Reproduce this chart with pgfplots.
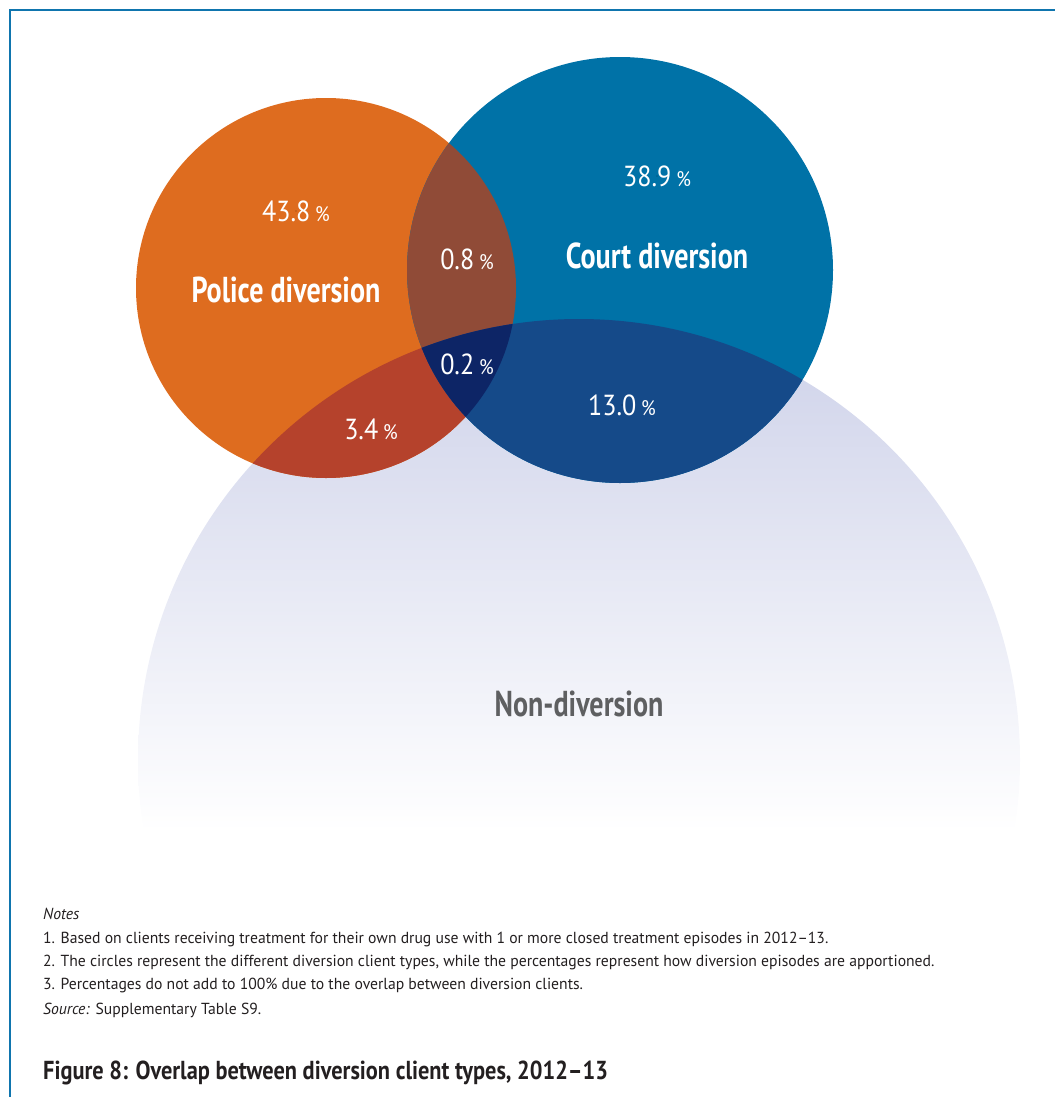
\documentclass[border=0pt]{standalone}
\usepackage{fontspec}
\setmainfont{PT Sans}[FakeStretch=0.98, BoldFeatures={FakeStretch=0.78}]
\newfontfamily\titlefamily{PT Sans}[BoldFeatures={FakeStretch=0.86}]
\newfontfamily\pctfamily{PT Sans}[FakeStretch=0.9]
\usepackage{pgfplots}
\pgfplotsset{compat=1.18}
\definecolor{frame}{HTML}{0F75AE}
\definecolor{police}{HTML}{DE6C1F}
\definecolor{court}{HTML}{0072A7}
\definecolor{pc}{HTML}{904B37}
\definecolor{pn}{HTML}{B5422C}
\definecolor{cn}{HTML}{154A89}
\definecolor{pcn}{HTML}{0D2566}
\definecolor{lav}{HTML}{CDD1E9}
\definecolor{labgrey}{HTML}{5E5F61}
\definecolor{txt}{HTML}{231F20}
\begin{document}
\begin{tikzpicture}
\begin{axis}[width=1055pt,height=1097pt,scale only axis,
  xmin=0,xmax=1055,ymin=0,ymax=1097,y dir=reverse,
  hide axis, clip=false]
% frame
\draw[frame, line width=2.5pt] (axis cs:10,1097) -- (axis cs:10,10) -- (axis cs:1055,10);
% non-diversion (faded)
\begin{scope}
\clip (axis cs:579,760) circle[radius=441pt];
\shade[top color=lav, middle color=lav!80!white, bottom color=white] (axis cs:100,318) rectangle (axis cs:1055,832);
\end{scope}
% police and court
\fill[police] (axis cs:326,288) circle[radius=190pt];
\fill[court] (axis cs:620,270) circle[radius=213pt];
% overlaps
\begin{scope}
\clip (axis cs:326,288) circle[radius=190pt];
\fill[pc] (axis cs:620,270) circle[radius=213pt];
\fill[pn] (axis cs:579,760) circle[radius=441pt];
\end{scope}
\begin{scope}
\clip (axis cs:620,270) circle[radius=213pt];
\fill[cn] (axis cs:579,760) circle[radius=441pt];
\end{scope}
\begin{scope}
\clip (axis cs:326,288) circle[radius=190pt];
\clip (axis cs:620,270) circle[radius=213pt];
\fill[pcn] (axis cs:579,760) circle[radius=441pt];
\end{scope}
% percentages
\addplot[only marks, mark=*, mark size=0.01pt, mark options={draw=none,fill=none},
  point meta=explicit symbolic,
  nodes near coords={\pgfplotspointmeta\,{\fontsize{21}{21}\selectfont\%}},
  every node near coord/.append style={anchor=center, text=white, font=\pctfamily\fontsize{29}{29}\selectfont, inner sep=0pt}]
coordinates {
(296,211) [43.8]
(467,259) [0.8]
(657,176) [38.9]
(467,364) [0.2]
(371,429) [3.4]
(622,405) [13.0]
};
% region names
\node[text=white, font=\bfseries\fontsize{36}{36}\selectfont, inner sep=0pt] at (axis cs:286,290) {Police diversion};
\node[text=white, font=\bfseries\fontsize{36}{36}\selectfont, inner sep=0pt] at (axis cs:657,256) {Court diversion};
\node[text=labgrey, font=\bfseries\fontsize{36}{36}\selectfont, inner sep=0pt] at (axis cs:579,704) {Non-diversion};
% notes
\begin{scope}[every node/.style={anchor=base west, inner sep=0pt, text=txt, font=\fontsize{16}{16}\selectfont}]
\node at (axis cs:43,919) {\itshape Notes};
\node at (axis cs:43,943) {1. Based on clients receiving treatment for their own drug use with 1 or more closed treatment episodes in 2012–13.};
\node at (axis cs:43,966) {2. The circles represent the different diversion client types, while the percentages represent how diversion episodes are apportioned.};
\node at (axis cs:43,989) {3. Percentages do not add to 100\% due to the overlap between diversion clients.};
\node at (axis cs:43,1014) {\textit{Source:} Supplementary Table S9.};
\end{scope}
\node[anchor=base west, inner sep=0pt, text=txt, font=\titlefamily\bfseries\fontsize{26}{26}\selectfont] at (axis cs:43,1079) {Figure 8: Overlap between diversion client types, 2012–13};
\end{axis}
\pgfresetboundingbox
\path (current axis.south west) rectangle (current axis.north east);
\end{tikzpicture}
\end{document}
